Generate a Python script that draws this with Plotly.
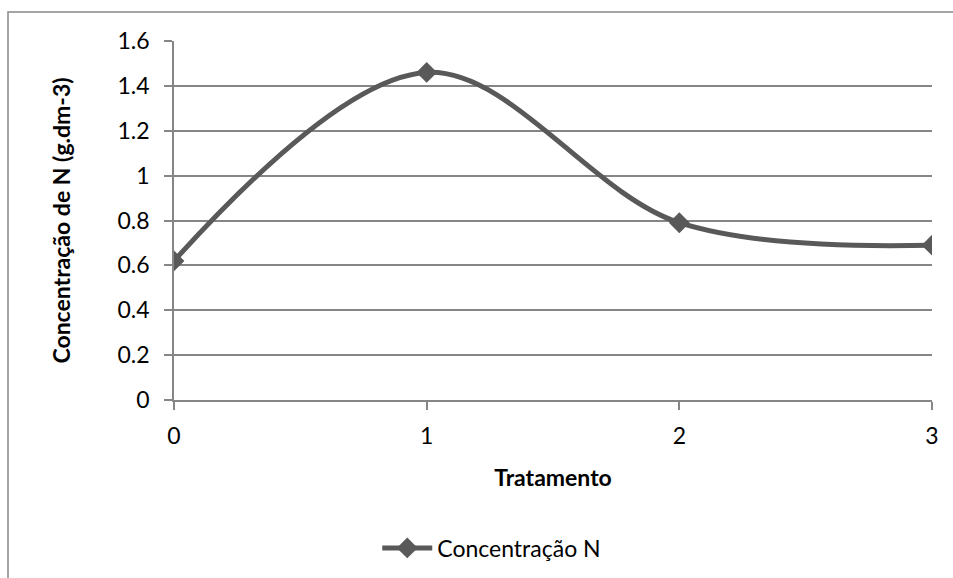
import plotly.graph_objects as go

tratamento = [0, 1, 2, 3]
concentracao_n = [0.62, 1.46, 0.79, 0.69]
y_ticks = [0, 0.2, 0.4, 0.6, 0.8, 1, 1.2, 1.4, 1.6]
y_tick_labels = ["0", "0.2", "0.4", "0.6", "0.8", "1", "1.2", "1.4", "1.6"]
x_ticks = [0, 1, 2, 3]
series_name = "Concentração N"

W, H = 953, 578
L, R, T, B = 174, 21, 41, 178
FONT = "Lato, Carlito, Calibri, sans-serif"
LINE = "#595959"
GRID = "#868686"

fig = go.Figure()
fig.add_trace(go.Scatter(
    x=tratamento, y=concentracao_n, name=series_name,
    mode="lines+markers", line=dict(color=LINE, width=5, shape="spline", smoothing=1.0),
    marker=dict(symbol="diamond", size=16, color=LINE),
))

pw = W - L - R
ph = H - T - B
def px_x(x):
    return (x - L) / pw
def px_y(y):
    return (H - B - y) / ph

fig.add_shape(type="rect", xref="paper", yref="paper",
              x0=px_x(8), x1=px_x(960), y0=px_y(12), y1=px_y(590),
              line=dict(color="#888888", width=1.5), fillcolor="rgba(0,0,0,0)", layer="below")

fig.update_layout(
    width=W, height=H,
    margin=dict(l=L, r=R, t=T, b=B),
    paper_bgcolor="white", plot_bgcolor="white",
    font=dict(family=FONT, size=23, color="black"),
    showlegend=True,
    legend=dict(orientation="h", xref="container", yref="container",
                x=0.516, xanchor="center", y=1 - 548 / H, yanchor="middle",
                font=dict(size=23), itemwidth=50),
    xaxis=dict(range=[0, 3], tickvals=x_ticks, showgrid=False, zeroline=False,
               showline=True, linecolor=GRID, linewidth=1.5,
               ticks="outside", ticklen=8, tickcolor=GRID, tickwidth=1.5,
               ticklabelstandoff=7,
               title=dict(text="<b>Tratamento</b>", font=dict(size=23), standoff=22)),
    yaxis=dict(range=[0, 1.6], tickvals=y_ticks, ticktext=y_tick_labels,
               showgrid=True, gridcolor=GRID, gridwidth=1.5, zeroline=False,
               showline=True, linecolor=GRID, linewidth=1.5,
               ticks="outside", ticklen=8, tickcolor=GRID, tickwidth=1.5,
               ticklabelstandoff=10,
               title=dict(text="<b>Concentração de N (g.dm-3)</b>", font=dict(size=23), standoff=40)),
)
fig.write_html("out.html", config={"displayModeBar": False},
               post_script="document.body.style.margin='0';document.body.style.padding='0';")
